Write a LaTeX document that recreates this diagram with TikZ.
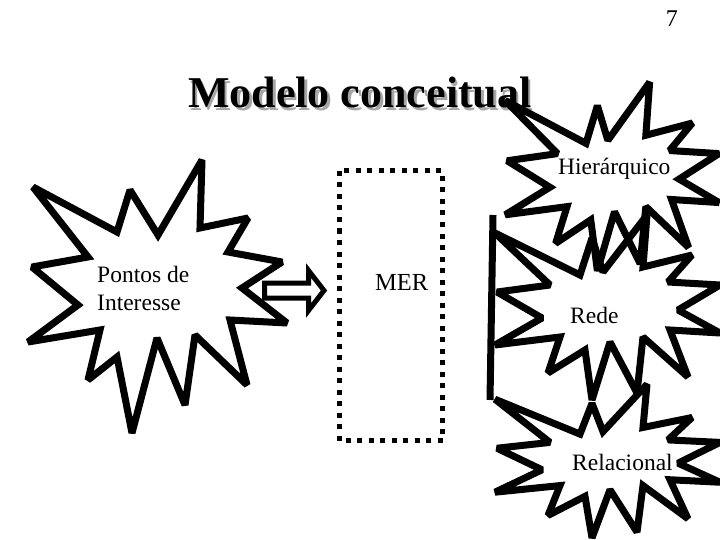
\documentclass[tikz,border=0pt]{standalone}
\usepackage{fontspec}
\setmainfont{Liberation Serif}
\newcommand{\burstpath}{(-105,-72) -- (-20,-30) -- (-8,-67) -- (3,-33) -- (47,-90) -- (43,-38) -- (92,-50) -- (68,-23) -- (120,-20) -- (78,5) -- (120,28) -- (70,25) -- (88,72) -- (43,32) -- (37,88) -- (10,37) -- (-8,95) -- (-15,45) -- (-52,68) -- (-40,32) -- (-105,40) -- (-58,13) -- (-103,-13) -- (-50,-20) -- cycle}
\tikzset{
  burst/.style={line width=7pt, line join=miter, miter limit=2},
  label/.style={font=\fontsize{23.5}{28}\selectfont, inner sep=0pt, anchor=base west}
}
\begin{document}
\begin{tikzpicture}[x=1pt,y=-1pt]
\useasboundingbox (0,0) rectangle (720,540);
\clip (0,0) rectangle (720,540);

%Title
\node [font=\fontsize{44}{50}\selectfont\bfseries, text=black!35, inner sep=0pt, anchor=base west] at (190.5,110.5) {Modelo conceitual};
\node [font=\fontsize{44}{50}\selectfont\bfseries, inner sep=0pt, anchor=base west] (title) at (188,108) {Modelo conceitual};
\node [font=\fontsize{24}{28}\selectfont, inner sep=0pt, anchor=base east] (page) at (678,27) {7};

%Left burst
\draw [burst] (33,187) -- (117,232) -- (130,190) -- (158,235) -- (202,160) -- (200,228) -- (248,218) -- (228,252) -- (282,262) -- (242,288) -- (287,323) -- (230,320) -- (247,385) -- (195,335) -- (185,405) -- (157,338) -- (132,433) -- (117,357) -- (88,380) -- (100,330) -- (28,342) -- (78,305) -- (32,267) -- (88,257) -- cycle;
\node [label, align=left] (pontos) at (97,310) {Pontos de\\Interesse};

%Block arrow
\draw [line width=5pt, line join=miter] (264.5,283) -- (308.5,283) -- (308.5,270.5) -- (324,290.5) -- (308.5,310.5) -- (308.5,298) -- (264.5,298) -- cycle;

%MER box
\draw [line width=5pt, dash pattern=on 5pt off 6.5pt] (339,171) rectangle (442.5,440.5);
\node [label, font=\fontsize{24.5}{28}\selectfont] (mer) at (375,290) {MER};

%Bar
\coordinate (bartop) at (493,215);
\coordinate (barbot) at (490,400);
\draw [line width=7pt] (bartop) -- (barbot);

%Right bursts
\draw [burst, shift={(605,174)}, xscale=0.95, yscale=1.02] \burstpath;
\draw [burst, shift={(600,305)}] \burstpath;
\draw [burst, shift={(600,459)}, yscale=0.83] \burstpath;
\node [label] (hier) at (558,175) {Hierárquico};
\node [label] (rede) at (570,323) {Rede};
\node [label] (rel) at (572,470) {Relacional};
\end{tikzpicture}
\end{document}
